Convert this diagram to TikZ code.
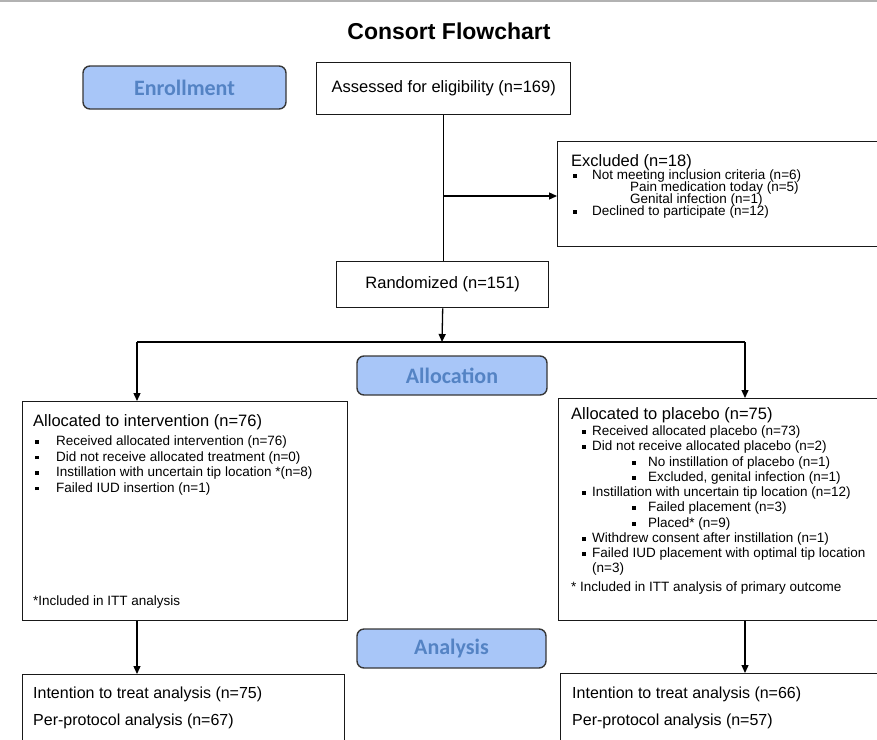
\documentclass[tikz,border=0pt]{standalone}
\usepackage{fontspec}
\setmainfont{Liberation Sans}
\newfontfamily\lblfont{Carlito}
\usetikzlibrary{arrows.meta}
\definecolor{lblfill}{RGB}{168,198,248}
\definecolor{lbltext}{RGB}{84,131,196}
\definecolor{lbldraw}{RGB}{55,55,55}
\newcommand{\bul}{\rule[1.8pt]{3.6pt}{3.6pt}}
\newcommand{\bitem}[2]{\makebox[#1][l]{\bul}#2}
\begin{document}
\begin{tikzpicture}[x=1pt,y=-1pt,
  box/.style={draw=black!90, line width=1.4pt, fill=white, inner sep=0pt, anchor=north west},
  lbl/.style={draw=lbldraw, line width=1.4pt, fill=lblfill, rounded corners=7pt, inner sep=0pt,
    font=\lblfont\bfseries\fontsize{22}{26}\selectfont, text=lbltext},
  txt/.style={inner sep=0pt, anchor=base west, font=\fontsize{13.5}{15}\selectfont},
  head/.style={inner sep=0pt, anchor=base west, font=\fontsize{16.5}{19}\selectfont},
  conn/.style={line width=1.3pt, draw=black},
  arr/.style={conn, -{Triangle[length=8pt,width=7pt]}}]
\clip (0,0) rectangle (877,739);
\draw[gray!60, line width=2pt] (0,1) -- (877,1);

\node[inner sep=0pt, font=\bfseries\fontsize{23}{27}\selectfont] (title) at (449,31) {Consort Flowchart};

% enrollment
\node[lbl, minimum width=203pt, minimum height=43pt] (enrol) at (184.5,87.5) {Enrollment};
\node[box, minimum width=254pt, minimum height=52pt, font=\fontsize{16.5}{19}\selectfont] (assess) at (316,62) {Assessed for eligibility (n=169)};

\node[box, minimum width=340pt, minimum height=105pt] (excl) at (557,141) {};
\node[head] (exh) at (571,166.5) {Excluded (n=18)};
\node[txt] (ex1) at (573,179.5) {\bitem{19pt}{Not meeting inclusion criteria (n=6)}};
\node[txt] (ex2) at (630,191.5) {Pain medication today (n=5)};
\node[txt] (ex3) at (630,203.5) {Genital infection (n=1)};
\node[txt] (ex4) at (573,215.5) {\bitem{19pt}{Declined to participate (n=12)}};

\node[box, minimum width=212pt, minimum height=46pt, font=\fontsize{16.5}{19}\selectfont] (rand) at (336,261) {Randomized (n=151)};

% allocation
\node[lbl, minimum width=190pt, minimum height=39pt] (alloc) at (452,375.5) {Allocation};

\node[box, minimum width=325pt, minimum height=219pt] (intv) at (22,401) {};
\node[head] (ih) at (33,426.5) {Allocated to intervention (n=76)};
\node[txt] (i1) at (35,445.5) {\bitem{21pt}{Received allocated intervention (n=76)}};
\node[txt] (i2) at (35,461) {\bitem{21pt}{Did not receive allocated treatment (n=0)}};
\node[txt] (i3) at (35,476.5) {\bitem{21pt}{Instillation with uncertain tip location *(n=8)}};
\node[txt] (i4) at (35,492) {\bitem{21pt}{Failed IUD insertion (n=1)}};
\node[txt] (ifn) at (33,605.5) {*Included in ITT analysis};

\node[box, minimum width=340pt, minimum height=222pt] (plac) at (558,398) {};
\node[head] (ph) at (571,419.5) {Allocated to placebo (n=75)};
\node[txt] (p1) at (582,435.5) {\bitem{10pt}{Received allocated placebo (n=73)}};
\node[txt] (p2) at (582,450.5) {\bitem{10pt}{Did not receive allocated placebo (n=2)}};
\node[txt] (p3) at (632,466.5) {\bitem{16pt}{No instillation of placebo (n=1)}};
\node[txt] (p4) at (632,481.5) {\bitem{16pt}{Excluded, genital infection (n=1)}};
\node[txt] (p5) at (582,496.5) {\bitem{10pt}{Instillation with uncertain tip location (n=12)}};
\node[txt] (p6) at (632,511.5) {\bitem{16pt}{Failed placement (n=3)}};
\node[txt] (p7) at (632,527.5) {\bitem{16pt}{Placed* (n=9)}};
\node[txt] (p8) at (582,542.5) {\bitem{10pt}{Withdrew consent after instillation (n=1)}};
\node[txt] (p9) at (582,557.5) {\bitem{10pt}{Failed IUD placement with optimal tip location}};
\node[txt] (p10) at (592,572.5) {(n=3)};
\node[txt] (pfn) at (571,591.5) {* Included in ITT analysis of primary outcome};

% analysis
\node[lbl, minimum width=189pt, minimum height=39pt] (anal) at (451.5,648.5) {Analysis};

\node[box, minimum width=322pt, minimum height=100pt] (ittl) at (22,674) {};
\node[head, font=\fontsize{16}{19}\selectfont] (l1) at (33,698) {Intention to treat analysis (n=75)};
\node[head, font=\fontsize{16}{19}\selectfont] (l2) at (33,725) {Per-protocol analysis (n=67)};

\node[box, minimum width=340pt, minimum height=100pt] (ittr) at (560,673) {};
\node[head, font=\fontsize{16}{19}\selectfont] (r1) at (572,698) {Intention to treat analysis (n=66)};
\node[head, font=\fontsize{16}{19}\selectfont] (r2) at (572,725) {Per-protocol analysis (n=57)};

% connectors
\coordinate (br) at (443,196);
\draw[conn] (assess.south) -- (assess.south |- rand.north);
\draw[arr] (br) -- (excl.west |- br);
\coordinate (split) at (442,342);
\coordinate (sL) at (137,342);
\coordinate (sR) at (745,342);
\draw[arr] (rand.south) -- (split);
\draw[conn] (sL) -- (sR);
\draw[arr] (sL) -- (sL |- intv.north);
\draw[arr] (sR) -- (sR |- plac.north);
\draw[arr] (intv.south -| sL) -- (ittl.north -| sL);
\draw[arr] (plac.south -| sR) -- (ittr.north -| sR);
\end{tikzpicture}
\end{document}
